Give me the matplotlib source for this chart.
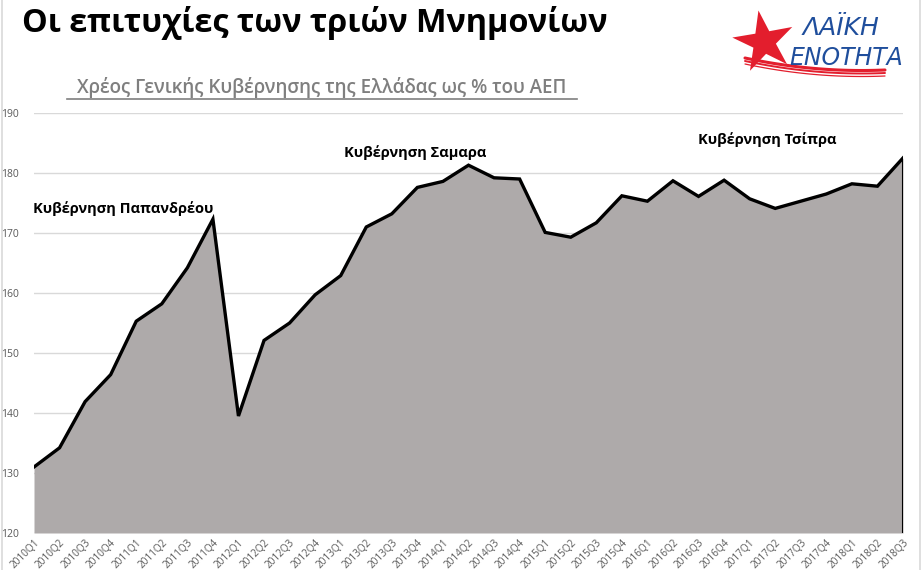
import numpy as np
import matplotlib
matplotlib.use("Agg")
import matplotlib.pyplot as plt
from matplotlib.patches import Polygon

plt.rcParams['font.family'] = ['Open Sans', 'DejaVu Sans']

# Δεδομένα: χρέος γενικής κυβέρνησης (% ΑΕΠ), ανά τρίμηνο
quarters = [f"{y}Q{q}" for y in range(2010, 2019) for q in range(1, 5)][:35]
debt = [131.0, 134.2, 141.9, 146.4, 155.3, 158.2, 164.2, 172.3,
        139.5, 152.1, 155.0, 159.7, 162.9, 171.0, 173.2, 177.6,
        178.6, 181.3, 179.2, 179.0, 170.1, 169.3, 171.7, 176.2,
        175.3, 178.7, 176.1, 178.8, 175.7, 174.1, 175.3, 176.5,
        178.2, 177.8, 182.5]
yticks = [120, 130, 140, 150, 160, 170, 180, 190]

# ετικέτες κυβερνήσεων: (κείμενο, δείκτης τριμήνου, τιμή y)
gov_labels = [("Κυβέρνηση Παπανδρέου", 3.5, 174.0),
              ("Κυβέρνηση Σαμαρα", 14.9, 183.4),
              ("Κυβέρνηση Τσίπρα", 28.7, 185.6)]

W, H = 924, 570
fig = plt.figure(figsize=(W / 100, H / 100), dpi=100)

def px(x0, y0, x1, y1):
    return [x0 / W, 1 - y1 / H, (x1 - x0) / W, (y1 - y0) / H]

ax = fig.add_axes(px(34, 113, 903, 533))
x = np.arange(len(debt))
ax.fill_between(x, debt, 120, color="#aeaaaa", lw=0, zorder=2)
ax.plot(x, debt, color="black", lw=2.4, zorder=3, solid_joinstyle="miter")
ax.plot([x[-1], x[-1]], [debt[-1], 120], color="black", lw=1.5, zorder=3)

ax.set_xlim(0, len(debt) - 1)
ax.set_ylim(120, 190)
ax.set_yticks(yticks)
ax.yaxis.grid(True, color="#d9d9d9", lw=1.0, zorder=0)
ax.set_axisbelow(True)
for s in ax.spines.values():
    s.set_visible(False)
ax.tick_params(axis="y", length=0, pad=11, labelsize=7.5, labelcolor="#595959")
ax.set_xticks(x)
ax.set_xticklabels(quarters, rotation=45, ha="right", va="top",
                   rotation_mode="anchor", fontsize=7.2, color="#595959")
ax.tick_params(axis="x", length=0, pad=3)

for txt, xi, yv in gov_labels:
    ax.text(xi, yv, txt, ha="center", va="center", fontsize=10.5,
            fontweight="bold", color="black", zorder=4)

# τίτλοι
fig.text(22 / W, 1 - 23 / H, "Οι επιτυχίες των τριών Μνημονίων", fontsize=23.3,
         fontweight="bold", color="black", ha="left", va="center")
fig.text(322 / W, 1 - 88 / H, "Χρέος Γενικής Κυβέρνησης της Ελλάδας ως % του ΑΕΠ",
         fontsize=13.5, fontweight="semibold", color="#7f7f7f", ha="center", va="center")
fig.add_artist(plt.Line2D([67 / W, 577 / W], [1 - 99 / H, 1 - 99 / H],
                          color="#7f7f7f", lw=1.2))

# πλαίσιο
fig.add_artist(plt.Line2D([2 / W, 2 / W], [0, 1], color="#d9d9d9", lw=1.2))
fig.add_artist(plt.Line2D([920 / W, 920 / W], [0, 1], color="#d9d9d9", lw=1.2))

# λογότυπο
lg = fig.add_axes(px(725, 0, 918, 90))
lg.set_xlim(725, 918)
lg.set_ylim(90, 0)
lg.axis("off")
ang = np.deg2rad(-100 + np.arange(10) * 36)
rad = np.where(np.arange(10) % 2 == 0, 32, 12)
cx, cy = 764, 42
star = np.column_stack([cx + rad * np.cos(ang), cy + rad * np.sin(ang)])
lg.add_patch(Polygon(star, closed=True, color="#e31e2d", lw=0))
t = np.linspace(0, 1, 40)
for dy, lw in [(0, 2.2), (3, 1.4), (6, 0.9)]:
    lg.plot(745 + 140 * t, 58 + dy + 30 * t - 18 * t ** 2,
            color="#e31e2d", lw=lw, solid_capstyle="round")
lg.text(803, 28, "ΛΑΪΚΗ", fontsize=18, style="italic", color="#1f4e9c",
        ha="left", va="center", family=["DejaVu Sans"])
lg.text(789, 58, "ΕΝΟΤΗΤΑ", fontsize=17, style="italic", color="#1f4e9c",
        ha="left", va="center", family=["DejaVu Sans"])

fig.savefig("out.png", dpi=100)
